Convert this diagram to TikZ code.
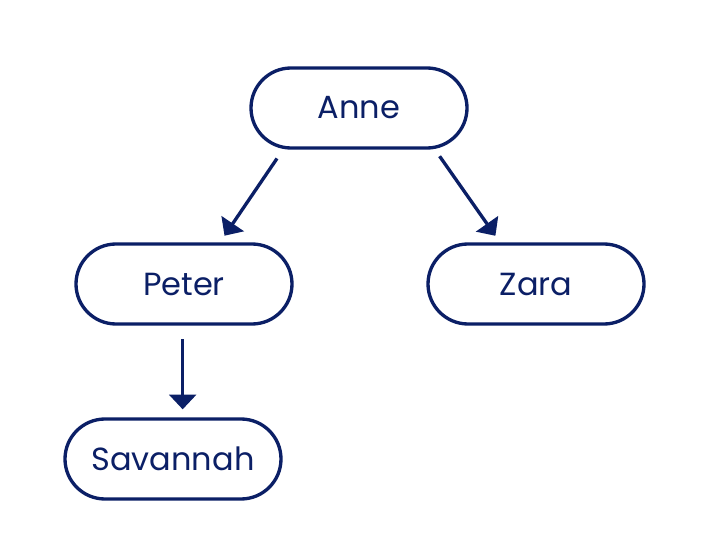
\documentclass[tikz,border=0pt]{standalone}
\usepackage{fontspec}
\setmainfont{Poppins}
\usetikzlibrary{arrows.meta,shapes.misc}
\definecolor{navy}{HTML}{0B1F66}
\begin{document}
\begin{tikzpicture}[x=0.75pt,y=-0.75pt,
  person/.style={draw=navy,line width=2.5pt,rounded rectangle,minimum width=162pt,minimum height=60pt,inner sep=0pt,text=navy,font=\fontsize{24}{28}\selectfont},
  arr/.style={draw=navy,line width=2.5pt,-{Triangle[length=11pt,width=20pt]}}]
\useasboundingbox (0,0) rectangle (702,559);
\node[person] (anne) at (359,108) {Anne};
\node[person] (peter) at (184,284) {Peter};
\node[person] (zara) at (536,284) {Zara};
\node[person] (sav) at (173,459) {Savannah};
\draw[arr,shorten <=8pt,shorten >=6pt] ([xshift=-57pt]anne.south) -- ([xshift=27pt]peter.north);
\draw[arr,shorten <=6pt,shorten >=6pt] ([xshift=57pt]anne.south) -- ([xshift=-27pt]zara.north);
\draw[arr,shorten <=10pt,shorten >=6pt] ([xshift=-1pt]peter.south) -- ([xshift=-1pt]peter.south |- sav.north);
\end{tikzpicture}
\end{document}
